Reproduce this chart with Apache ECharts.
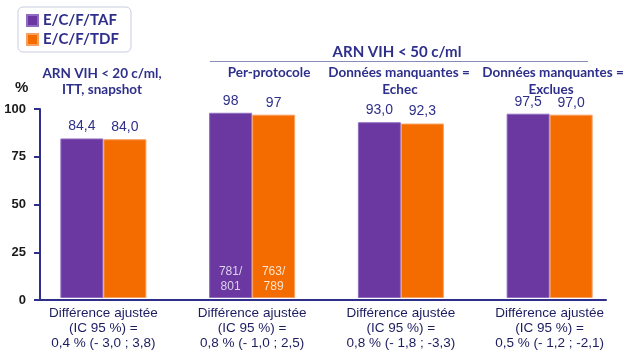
<!DOCTYPE html>
<html><head><meta charset="utf-8">
<script src="https://cdn.jsdelivr.net/npm/echarts@6/dist/echarts.min.js"></script>
<style>html,body{margin:0;padding:0;background:#fff}#c{width:626px;height:351px}</style>
</head><body><div id="c"></div>
<script>
var categories = [
  'Différence ajustée\n(IC 95 %) =\n0,4 % (- 3,0 ; 3,8)',
  'Différence ajustée\n(IC 95 %) =\n0,8 % (- 1,0 ; 2,5)',
  'Différence ajustée\n(IC 95 %) =\n0,8 % (- 1,8 ; -3,3)',
  'Différence ajustée\n(IC 95 %) =\n0,5 % (- 1,2 ; -2,1)'
];
var seriesNames = ['E/C/F/TAF', 'E/C/F/TDF'];
var tafValues = [84.4, 98, 93.0, 97.5];
var tdfValues = [84.0, 97, 92.3, 97.0];
var tafLabels = ['84,4', '98', '93,0', '97,5'];
var tdfLabels = ['84,0', '97', '92,3', '97,0'];
var tafCounts = ['', '781/\n801', '', ''];
var tdfCounts = ['', '763/\n789', '', ''];
var yTicks = [0, 25, 50, 75, 100];

var NAVY = '#2e2f8a';
var PURPLE = '#6a38a0';
var ORANGE = '#f46c00';
var SANS = "'Liberation Sans',Arial,sans-serif";
var HEAD = "Lato,'Open Sans',sans-serif";

function countSeries(name, vals, counts, color) {
  return {
    name: name + ' n', type: 'bar', xAxisIndex: 2, yAxisIndex: 1,
    barWidth: 43, barGap: '0%', silent: true,
    itemStyle: {color: 'rgba(0,0,0,0)'},
    data: vals.map(function (v, i) { return counts[i] ? v : null; }),
    label: {show: true, position: 'insideBottom', distance: 4, color: color,
      fontFamily: SANS, fontSize: 12, lineHeight: 15,
      formatter: function (p) { return counts[p.dataIndex]; }}
  };
}

var chart = echarts.init(document.getElementById('c'));
chart.setOption({
  animation: false,
  legend: {
    data: seriesNames, orient: 'vertical', left: 18, top: 7,
    padding: [6, 12, 5, 8], itemGap: 4, itemWidth: 11, itemHeight: 11,
    borderColor: '#c8cbe0', borderWidth: 1, borderRadius: 5,
    icon: 'rect',
    textStyle: {color: NAVY, fontWeight: 'bold', fontSize: 15, fontFamily: HEAD}
  },
  grid: [
    {left: 40, right: 20, top: 109, bottom: 51},
    {left: 29, right: 2, top: 109, bottom: 51}
  ],
  xAxis: [
    {type: 'category', gridIndex: 0, data: categories,
      axisLine: {lineStyle: {color: NAVY, width: 2}}, axisTick: {show: false}, axisLabel: {show: false}},
    {type: 'category', gridIndex: 1, data: categories,
      axisLine: {show: false}, axisTick: {show: false},
      axisLabel: {interval: 0, margin: 8, color: '#1c1c60', fontFamily: SANS, fontSize: 13.5, lineHeight: 15}},
    {type: 'category', gridIndex: 1, data: categories, show: false}
  ],
  yAxis: [
    {type: 'value', gridIndex: 0, min: yTicks[0], max: yTicks[yTicks.length - 1], interval: 25,
      splitLine: {show: false},
      axisLine: {show: true, lineStyle: {color: NAVY, width: 2}},
      axisTick: {show: true, length: 6, lineStyle: {color: NAVY, width: 2}},
      axisLabel: {margin: 14, color: '#1a1a1a', fontWeight: 'bold', fontSize: 13, fontFamily: SANS}},
    {type: 'value', gridIndex: 1, min: 0, max: 100, show: false}
  ],
  series: [
    {name: seriesNames[0], type: 'bar', xAxisIndex: 1, yAxisIndex: 1, barWidth: 43, barGap: '0%',
      data: tafValues,
      itemStyle: {color: PURPLE, borderColor: '#8f6cc0', borderWidth: 1},
      label: {show: true, position: 'top', distance: 5, color: NAVY, fontFamily: SANS, fontSize: 14,
        formatter: function (p) { return tafLabels[p.dataIndex]; }}},
    {name: seriesNames[1], type: 'bar', xAxisIndex: 1, yAxisIndex: 1, barWidth: 43, barGap: '0%',
      data: tdfValues,
      itemStyle: {color: ORANGE, borderColor: '#f8a060', borderWidth: 1},
      label: {show: true, position: 'top', distance: 5, color: NAVY, fontFamily: SANS, fontSize: 14,
        formatter: function (p) { return tdfLabels[p.dataIndex]; }}},
    countSeries(seriesNames[0], tafValues, tafCounts, '#ddd3ee'),
    countSeries(seriesNames[1], tdfValues, tdfCounts, '#fde3cc')
  ],
  graphic: [
    {type: 'text', left: 15, top: 80, style: {text: '%', fill: '#1a1a1a', font: 'bold 15px ' + SANS}},
    {type: 'text', x: 102, y: 74, style: {text: 'ARN VIH < 20 c/ml,', fill: NAVY, align: 'center', verticalAlign: 'middle', font: 'bold 13.5px ' + HEAD}},
    {type: 'text', x: 102, y: 90, style: {text: 'ITT, snapshot', fill: NAVY, align: 'center', verticalAlign: 'middle', font: 'bold 13.5px ' + HEAD}},
    {type: 'text', x: 397, y: 52, style: {text: 'ARN VIH < 50 c/ml', fill: NAVY, align: 'center', verticalAlign: 'middle', font: 'bold 15px ' + HEAD}},
    {type: 'line', shape: {x1: 210, y1: 61.5, x2: 588, y2: 61.5}, style: {stroke: '#8a8cb8', lineWidth: 1}},
    {type: 'text', x: 269, y: 73, style: {text: 'Per-protocole', fill: NAVY, align: 'center', verticalAlign: 'middle', font: 'bold 13.5px ' + HEAD}},
    {type: 'text', x: 399, y: 73, style: {text: 'Données manquantes =', fill: NAVY, align: 'center', verticalAlign: 'middle', font: 'bold 13.5px ' + HEAD}},
    {type: 'text', x: 400, y: 90, style: {text: 'Echec', fill: NAVY, align: 'center', verticalAlign: 'middle', font: 'bold 13.5px ' + HEAD}},
    {type: 'text', x: 553, y: 73, style: {text: 'Données manquantes =', fill: NAVY, align: 'center', verticalAlign: 'middle', font: 'bold 13.5px ' + HEAD}},
    {type: 'text', x: 551, y: 90, style: {text: 'Exclues', fill: NAVY, align: 'center', verticalAlign: 'middle', font: 'bold 13.5px ' + HEAD}}
  ]
});
</script></body></html>
